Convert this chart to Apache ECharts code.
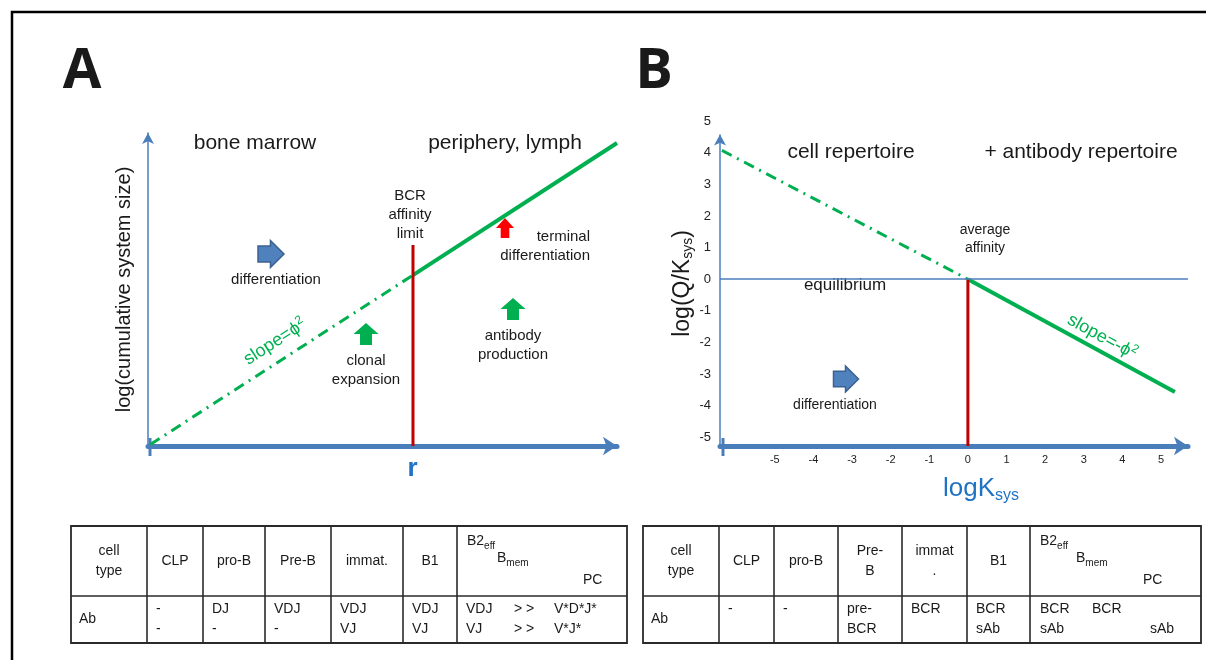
<!DOCTYPE html>
<html>
<head>
<meta charset="utf-8">
<script src="https://cdn.jsdelivr.net/npm/echarts@6/dist/echarts.min.js"></script>
<style>
  html, body { margin: 0; padding: 0; background: #fff; }
  #chart { width: 1206px; height: 660px; }
</style>
</head>
<body>
<div id="chart"></div>
<script>
// ---- panel A: log(cumulative system size) vs r (arbitrary units 0..10)
const rCells = [0.05, 5.65];
const sizeCells = [0.05, 5.46];
const rAntibody = [5.65, 10];
const sizeAntibody = [5.46, 9.68];
const bcrLimitR = 5.65;
const bcrLimitTop = 6.42;

// ---- panel B: log(Q/Ksys) vs logKsys
const logKCells = [-6.37, 0];
const logQCells = [4.07, 0];
const logKAntibody = [0, 5.36];
const logQAntibody = [0, -3.56];
const avgAffinityK = 0;
const xTicksB = [-5, -4, -3, -2, -1, 0, 1, 2, 3, 4, 5];
const yTicksB = [5, 4, 3, 2, 1, 0, -1, -2, -3, -4, -5];

// ---- tables
const cellTypesA = ['cell\ntype', 'CLP', 'pro-B', 'Pre-B', 'immat.', 'B1'];
const abA = [['Ab'], ['-', '-'], ['DJ', '-'], ['VDJ', '-'], ['VDJ', 'VJ'], ['VDJ', 'VJ']];
const lateAbA = [['VDJ', '> >', 'V*D*J*'], ['VJ', '> >', 'V*J*']];
const cellTypesB = ['cell\ntype', 'CLP', 'pro-B', 'Pre-\nB', 'immat\n.', 'B1'];
const abB = [['Ab'], ['-'], ['-'], ['pre-', 'BCR'], ['BCR'], ['BCR', 'sAb']];
const lateAbB = [['BCR', 'BCR', ''], ['sAb', '', 'sAb']];
const lateTypes = ['B2{s|eff}', 'B{s|mem}', 'PC'];

// axis extents of panel B (pixel layout of the drawing)
const kRangeB = [-6.42, 5.7];
const qRangeB = [-5.27, 5];
const qArrowTopB = 4.57;

const FONT = '"Liberation Sans", Arial, sans-serif';
const AXIS_BLUE = '#4a7ebb';
const GREEN = '#00b050';
const RED = '#c00000';
const NAME_BLUE = '#1f72c4';
const INK = '#1a1a1a';
const DASHDOT = [11, 6, 2, 6];

const zip = (xs, ys) => xs.map((x, i) => [x, ys[i]]);

function txt(x, y, text, size, extra) {
  return {
    type: 'text', x: x, y: y, silent: true,
    style: Object.assign({
      text: text, fontSize: size, fontFamily: FONT, fill: INK,
      align: 'center', verticalAlign: 'middle', lineHeight: Math.round(size * 1.3)
    }, extra || {})
  };
}

function arrowRight(cx, cy, w, h) {
  return {
    type: 'polygon', silent: true,
    shape: { points: [
      [cx - w / 2, cy - h * 0.3], [cx - w * 0.02, cy - h * 0.3], [cx - w * 0.02, cy - h / 2],
      [cx + w / 2, cy], [cx - w * 0.02, cy + h / 2], [cx - w * 0.02, cy + h * 0.3], [cx - w / 2, cy + h * 0.3]
    ] },
    style: { fill: '#4f81bd', stroke: '#3b6193', lineWidth: 1.5 }
  };
}

function arrowUp(cx, cy, w, h, color) {
  return {
    type: 'polygon', silent: true,
    shape: { points: [
      [cx, cy - h / 2], [cx + w / 2, cy], [cx + w * 0.24, cy], [cx + w * 0.24, cy + h / 2],
      [cx - w * 0.24, cy + h / 2], [cx - w * 0.24, cy], [cx - w / 2, cy]
    ] },
    style: { fill: color }
  };
}

function table(cols, top, mid, bottom, types, abRows, lateOffsets, lateRows, lateHead) {
  const g = [];
  const line = (x1, y1, x2, y2) => ({ type: 'line', silent: true,
    shape: { x1: x1, y1: y1, x2: x2, y2: y2 }, style: { stroke: '#2a2a2a', lineWidth: 1.6 } });
  g.push({ type: 'rect', silent: true,
    shape: { x: cols[0], y: top, width: cols[cols.length - 1] - cols[0], height: bottom - top },
    style: { fill: 'none', stroke: '#2a2a2a', lineWidth: 1.8 } });
  for (let i = 1; i < cols.length - 1; i++) g.push(line(cols[i], top, cols[i], bottom));
  g.push(line(cols[0], mid, cols[cols.length - 1], mid));
  types.forEach((t, i) => {
    g.push(txt((cols[i] + cols[i + 1]) / 2, (top + mid) / 2, t, 14, { lineHeight: 20 }));
  });
  abRows.forEach((lines, i) => {
    if (i === 0) {
      g.push(txt(cols[0] + 8, (mid + bottom) / 2, lines[0], 14, { align: 'left' }));
    } else {
      g.push(txt(cols[i] + 9, mid + 3, lines.join('\n'), 14, { align: 'left', verticalAlign: 'top', lineHeight: 20 }));
    }
  });
  const c = cols[6];
  const rich = { s: { fontSize: 10, fontFamily: FONT, fill: INK, verticalAlign: 'bottom', lineHeight: 10 } };
  lateTypes.forEach((t, i) => {
    g.push(txt(c + lateHead[i][0], lateHead[i][1], t, 14, { align: 'left', lineHeight: 20, rich: rich }));
  });
  lateRows.forEach((row, r) => {
    row.forEach((t, k) => {
      if (t) g.push(txt(c + lateOffsets[k], mid + 13 + r * 20, t, 14, { align: 'left' }));
    });
  });
  return g;
}

const chart = echarts.init(document.getElementById('chart'), null, { renderer: 'canvas' });

const supRich = { p: { fontSize: 12, fill: GREEN, fontFamily: FONT, verticalAlign: 'top', lineHeight: 12 } };
const slopeA = txt(275, 342, 'slope=ϕ{p|2}', 18, { fill: GREEN, lineHeight: 22, rich: supRich });
slopeA.rotation = 0.575;
const slopeB = txt(1102, 337, 'slope=-ϕ{p|2}', 18, { fill: GREEN, lineHeight: 22, rich: supRich });
slopeB.rotation = -0.5;

const graphics = [
  { type: 'rect', silent: true, shape: { x: 12, y: 12, width: 1400, height: 1000 },
    style: { fill: 'none', stroke: '#000', lineWidth: 2.5 } },
  txt(82, 72, 'A', 56, { fontWeight: 'bold', fontFamily: '"Open Sans", ' + FONT }),
  txt(654, 72, 'B', 56, { fontWeight: 'bold', fontFamily: '"Open Sans", ' + FONT }),
  // panel A
  { type: 'line', silent: true, shape: { x1: 150, y1: 438, x2: 150, y2: 456 }, style: { stroke: AXIS_BLUE, lineWidth: 3 } },
  txt(255, 143, 'bone marrow', 21),
  txt(505, 143, 'periphery, lymph', 21),
  txt(410, 215, 'BCR\naffinity\nlimit', 15, { lineHeight: 19 }),
  arrowRight(271, 254, 26, 27),
  txt(276, 280, 'differentiation', 15),
  arrowUp(366, 334, 25, 22, GREEN),
  txt(366, 370, 'clonal\nexpansion', 15, { lineHeight: 19 }),
  arrowUp(505, 228, 18, 20, '#ff0000'),
  txt(590, 246, 'terminal\ndifferentiation', 15, { align: 'right', lineHeight: 19 }),
  arrowUp(513, 309, 25, 22, GREEN),
  txt(513, 345, 'antibody\nproduction', 15, { lineHeight: 19 }),
  slopeA,
  // panel B
  { type: 'line', silent: true, shape: { x1: 723, y1: 438, x2: 723, y2: 456 }, style: { stroke: AXIS_BLUE, lineWidth: 3 } },
  txt(851, 152, 'cell repertoire', 21),
  txt(1081, 152, '+ antibody repertoire', 21),
  txt(985, 239, 'average\naffinity', 14, { lineHeight: 18 }),
  txt(845, 285, 'equilibrium', 17, { backgroundColor: 'rgba(255,255,255,0.55)', padding: [0, 2] }),
  arrowRight(846, 379, 25, 26),
  txt(835, 405, 'differentiation', 14),
  slopeB
];

const tA = table([71, 147, 203, 265, 331, 403, 457, 627], 526, 596, 643,
  cellTypesA, abA, [9, 57, 97], lateAbA, [[10, 541], [40, 558], [126, 580]]);
const tB = table([643, 719, 774, 838, 902, 967, 1030, 1201], 526, 596, 643,
  cellTypesB, abB, [10, 62, 120], lateAbB, [[10, 541], [46, 558], [113, 580]]);

const option = {
  animation: false,
  backgroundColor: '#fff',
  textStyle: { fontFamily: FONT },
  grid: [
    { left: 148, top: 133, width: 469, height: 313 },
    { left: 720, top: 121, width: 468, height: 325 }
  ],
  xAxis: [
    {
      type: 'value', gridIndex: 0, min: 0, max: 10,
      splitLine: { show: false }, axisTick: { show: false }, axisLabel: { show: false },
      axisLine: { show: true, onZero: false, symbol: ['none', 'arrow'], symbolSize: [14, 14], symbolOffset: [0, 0],
        lineStyle: { color: AXIS_BLUE, width: 5 } },
      name: 'r', nameLocation: 'middle', nameGap: 10,
      nameTextStyle: { color: NAME_BLUE, fontSize: 26, fontWeight: 'bold', fontFamily: FONT, padding: [0, 0, 0, 60] }
    },
    {
      type: 'value', gridIndex: 1, min: kRangeB[0], max: kRangeB[1],
      splitLine: { show: false }, axisTick: { show: false },
      axisLabel: { customValues: xTicksB, fontSize: 11, color: '#222', margin: 8, fontFamily: FONT },
      axisLine: { show: true, onZero: false, symbol: ['none', 'arrow'], symbolSize: [14, 14], symbolOffset: [0, 0],
        lineStyle: { color: AXIS_BLUE, width: 5 } },
      name: '{a|logK}{s|sys}', nameLocation: 'middle', nameGap: 28,
      nameTextStyle: { padding: [0, 0, 0, 54], rich: {
        a: { fontSize: 26, color: NAME_BLUE, fontFamily: FONT, lineHeight: 30 },
        s: { fontSize: 16, color: NAME_BLUE, fontFamily: FONT, verticalAlign: 'bottom', lineHeight: 16 }
      } }
    }
  ],
  yAxis: [
    {
      type: 'value', gridIndex: 0, min: 0, max: 10,
      splitLine: { show: false }, axisTick: { show: false }, axisLabel: { show: false },
      axisLine: { show: true, onZero: false, symbol: ['none', 'arrow'], symbolSize: [9, 11],
        lineStyle: { color: AXIS_BLUE, width: 1.5 } },
      name: 'log(cumulative system size)', nameLocation: 'middle', nameGap: 14,
      nameTextStyle: { fontSize: 20, color: INK, fontFamily: FONT }
    },
    {
      type: 'value', gridIndex: 1, min: qRangeB[0], max: qRangeB[1],
      splitLine: { show: false }, axisTick: { show: false }, axisLine: { show: false },
      axisLabel: { customValues: yTicksB, fontSize: 13, color: '#222', margin: 9, fontFamily: FONT },
      name: '{a|log(Q/K}{s|sys}{a|)}', nameLocation: 'middle', nameGap: 17,
      nameTextStyle: { rich: {
        a: { fontSize: 23, color: INK, fontFamily: FONT, lineHeight: 26 },
        s: { fontSize: 14, color: INK, fontFamily: FONT, verticalAlign: 'bottom', lineHeight: 14 }
      } }
    }
  ],
  series: [
    { type: 'line', xAxisIndex: 0, yAxisIndex: 0, data: zip(rCells, sizeCells), showSymbol: false, silent: true,
      lineStyle: { color: GREEN, width: 3, type: DASHDOT } },
    { type: 'line', xAxisIndex: 0, yAxisIndex: 0, data: zip(rAntibody, sizeAntibody), showSymbol: false, silent: true,
      lineStyle: { color: GREEN, width: 4 } },
    { type: 'line', xAxisIndex: 0, yAxisIndex: 0, data: [[bcrLimitR, 0], [bcrLimitR, bcrLimitTop]], showSymbol: false, silent: true,
      lineStyle: { color: RED, width: 3 } },
    // panel B helper: y axis with arrow and equilibrium line
    { type: 'line', xAxisIndex: 1, yAxisIndex: 1, data: [], silent: true,
      markLine: { silent: true, animation: false, symbol: ['none', 'arrow'], symbolSize: [9, 11], label: { show: false },
        lineStyle: { color: AXIS_BLUE, width: 1.5, type: 'solid' },
        data: [[{ coord: [kRangeB[0], qRangeB[0]] }, { coord: [kRangeB[0], qArrowTopB] }]] } },
    { type: 'line', xAxisIndex: 1, yAxisIndex: 1, data: [], silent: true,
      markLine: { silent: true, animation: false, symbol: ['none', 'none'], label: { show: false },
        lineStyle: { color: AXIS_BLUE, width: 1.5, type: 'solid' },
        data: [[{ coord: [kRangeB[0], 0] }, { coord: [kRangeB[1], 0] }]] } },
    { type: 'line', xAxisIndex: 1, yAxisIndex: 1, data: zip(logKCells, logQCells), showSymbol: false, silent: true,
      lineStyle: { color: GREEN, width: 3, type: DASHDOT } },
    { type: 'line', xAxisIndex: 1, yAxisIndex: 1, data: zip(logKAntibody, logQAntibody), showSymbol: false, silent: true,
      lineStyle: { color: GREEN, width: 4 } },
    { type: 'line', xAxisIndex: 1, yAxisIndex: 1, data: [[avgAffinityK, qRangeB[0]], [avgAffinityK, 0]], showSymbol: false, silent: true,
      lineStyle: { color: RED, width: 3 } }
  ],
  graphic: { elements: graphics.concat(tA, tB) }
};

chart.setOption(option);
</script>
</body>
</html>
